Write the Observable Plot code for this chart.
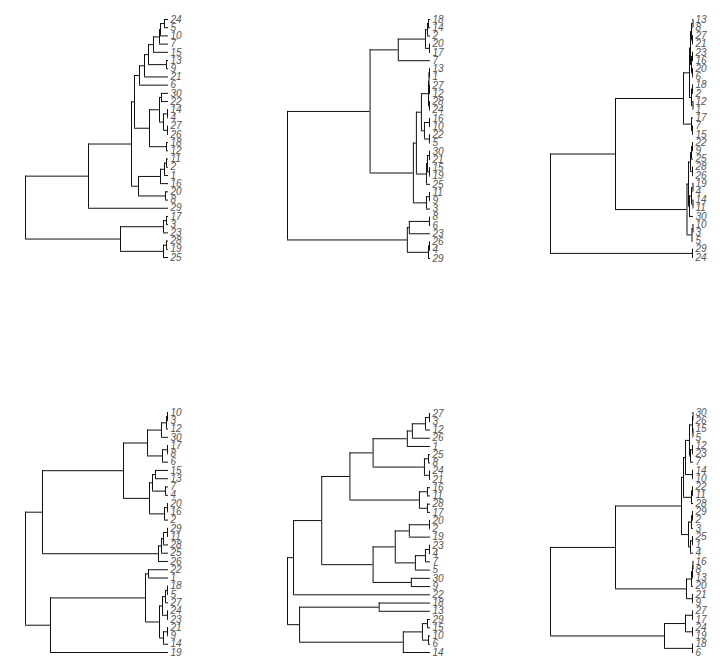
<!DOCTYPE html>
<html>
<head>
<meta charset="utf-8">
<script src="https://cdn.jsdelivr.net/npm/d3@7"></script>
<script src="https://cdn.jsdelivr.net/npm/@observablehq/plot@0.6"></script>
<style>
  html, body { margin: 0; padding: 0; background: #fff; }
  #wrap { position: relative; width: 720px; height: 672px; overflow: hidden; background: #fff; }
  #wrap > svg { position: absolute; }
</style>
</head>
<body>
<div id="wrap"></div>
<script>
// Each tree: nested [left, right, height]; leaves are tip labels.
const tree1 = [
  [
    [
      [
        [[[[[[[24, 5, 4], 10, 8], 7, 9], 15, 15], [13, 9, 2], 20], 21, 24], 6, 29],
        [[[30, 22, 7], [[14, 4, 1], [27, 26, 1], 5], 9], [18, 12, 2], 19],
        34
      ],
      [[[[11, 2, 2], 1, 4], 16, 8], [20, 8, 3], 30],
      37
    ],
    29, 80
  ],
  [[[17, 3, 2], 23, 5], [[28, 19, 2], 25, 5], 48],
  143
];

const tree2 = [
  [
    [[[[18, 14, 2], 2, 3], [20, 17, 1], 5], 7, 32],
    [
      [
        [[[[13, 1, 1], [27, 12, 1], 1.5], [28, 24, 1], 2], [[16, 10, 1], [22, 5, 1], 6], 9],
        [[[30, 21, 1], [15, 19, 1], 3], 25, 4],
        14
      ],
      [[11, 9, 1], 3, 4],
      17
    ],
    60
  ],
  [[[8, 6, 1], 23, 21], [[26, 4, 1], 29, 2], 23],
  142
];

const tree3 = [
  [
    [
      [[[[13, 8, 0.5], [27, 21, 1], 2], [[23, 16, 1], [20, 6, 1], 2], 3], [[18, 2, 1], [12, 1, 0.5], 2], 4],
      [17, [7, 15, 1], 2],
      10
    ],
    [
      [[[[22, 9, 1], 25, 2], [28, 26, 1], 3], [[[19, 4, 0.5], [14, 11, 0.5], 2], 30, 4], 5],
      [[10, 3, 0.5], 5, 1.5],
      6.5
    ],
    78
  ],
  [29, 24, 1],
  143
];

const tree4 = [
  [
    [
      [[[[10, 3, 1], 12, 2], 30, 7], [[17, 8, 1], 6, 6], 21],
      [[[15, 13, 13], [7, 4, 3], 16], [[20, 16, 1], 2, 4], 19],
      45
    ],
    [[[[29, 11, 1], 28, 5], 25, 7], 26, 10],
    126
  ],
  [
    [
      [22, 1, 20],
      [[[[18, 5, 1], 27, 3], [24, 23, 1], 6], [[21, 9, 1], 14, 5], 9],
      23
    ],
    19, 118
  ],
  143
];

const tree5 = [
  [
    [
      [
        [[[[[27, 3, 1], 12, 5], 26, 18], 1, 23], [[25, 8, 2], [24, 21, 1], 6], 57],
        [[16, 11, 3], [28, 17, 3], 11],
        80
      ],
      [[[[20, 2, 1], 19, 21], [[[23, 4, 1], 7, 5], 5, 15], 35], [30, 9, 19], 57],
      108
    ],
    22, 136
  ],
  [[18, 13, 51], [[[29, 15, 3], [10, 6, 2], 8], 14, 27], 130],
  142
];

const tree6 = [
  [
    [
      [
        [[[[30, 26, 0.5], [15, 5, 0.5], 1], [[12, 23, 1], 7, 3], 4], [14, 10, 1], 8],
        [[22, 11, 1], 28, 2],
        10
      ],
      [[[29, 2, 1], 3, 2], [[25, 1, 1], 4, 3], 5],
      12
    ],
    [[[[16, 8, 0.5], 13, 1], 20, 2], [21, 9, 1], 7],
    78
  ],
  [[[27, 17, 1], [24, 19, 1], 8], [18, 6, 1], 29],
  143
];

const trees = [tree1, tree2, tree3, tree4, tree5, tree6];
const panelLeft = [0, 262, 525, 0, 262, 525];
const panelTop = [0, 0, 0, 336, 336, 336];
const panelWidth = [262, 263, 195, 262, 263, 195];
const yRanges = [[19, 257], [19, 258], [19, 257], [76, 316], [77, 316], [76, 316]];

function layout(tree) {
  const leaves = [], verts = [], horiz = [];
  let i = 0;
  function rec(n) {
    if (!Array.isArray(n)) {
      const y = i++;
      leaves.push({label: String(n), y});
      return {y, h: 0};
    }
    const [a, b, h] = n;
    const A = rec(a), B = rec(b);
    verts.push({h, y1: A.y, y2: B.y});
    horiz.push({h1: h, h2: A.h, y: A.y});
    horiz.push({h1: h, h2: B.h, y: B.y});
    return {y: (A.y + B.y) / 2, h};
  }
  const root = rec(tree);
  return {leaves, verts, horiz, root, n: i};
}

const wrap = document.getElementById("wrap");
trees.forEach((t, k) => {
  const L = layout(t);
  const svg = Plot.plot({
    width: panelWidth[k],
    height: 336,
    margin: 0,
    style: {background: "transparent"},
    x: {domain: [L.root.h, 0], range: [25, 168], axis: null},
    y: {domain: [0, L.n - 1], range: yRanges[k], axis: null},
    marks: [
      Plot.ruleY(L.horiz, {y: "y", x1: "h1", x2: "h2", stroke: "#111", strokeWidth: 1}),
      Plot.ruleX(L.verts, {x: "h", y1: "y1", y2: "y2", stroke: "#111", strokeWidth: 1}),
      Plot.text(L.leaves, {
        x: 0, y: "y", text: "label", textAnchor: "start", dx: 2,
        fill: "#555", fontSize: 10, fontStyle: "italic",
        fontFamily: "Liberation Sans, Arial, sans-serif"
      })
    ]
  });
  svg.style.left = panelLeft[k] + "px";
  svg.style.top = panelTop[k] + "px";
  wrap.appendChild(svg);
});
</script>
</body>
</html>
